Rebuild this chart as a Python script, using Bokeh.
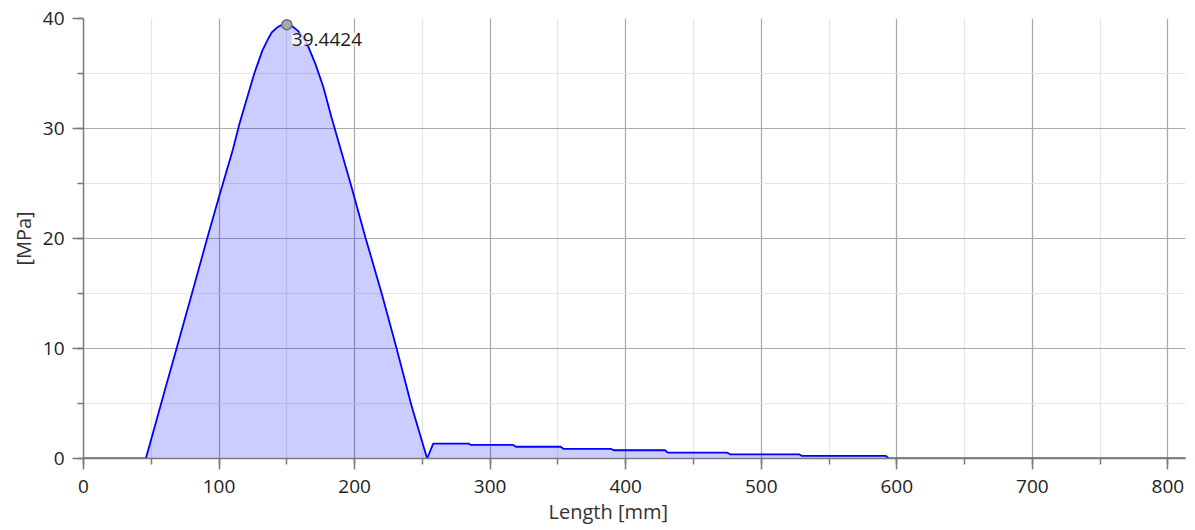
from bokeh.plotting import figure
from bokeh.models import Range1d, SingleIntervalTicker, Label, Title
from bokeh.embed import file_html
from bokeh.resources import INLINE

# ---- data ----
length_mm = [0, 46, 60, 70, 80, 91, 100, 110, 115, 120, 126, 132, 136, 139, 143, 146, 150, 154,
             158, 162, 165, 171, 177, 183, 190, 197, 208, 220, 231, 242, 253.5, 258,
             284, 286, 317, 319, 352, 354, 389, 391, 429, 431, 475, 477, 528, 530,
             592, 594, 816]
stress_mpa = [0, 0, 6.2, 10.6, 15.0, 19.9, 23.8, 28.0, 30.4, 32.5, 35.0, 37.1, 38.1, 38.75, 39.2, 39.4, 39.4424, 39.3,
              38.9, 38.3, 37.7, 35.9, 33.75, 31.0, 28.0, 25.0, 20.1, 15.0, 10.0, 4.8, 0, 1.35,
              1.35, 1.23, 1.23, 1.07, 1.07, 0.88, 0.88, 0.75, 0.75, 0.53, 0.53, 0.38, 0.38, 0.23,
              0.23, 0, 0]
x_label = "Length [mm]"
y_label = "[MPa]"

FONT = "Open Sans"

p = figure(width=1187, height=526, output_backend="svg", toolbar_location=None,
           x_range=Range1d(0, 813), y_range=Range1d(0, 40),
           min_border_left=83, min_border_right=2, min_border_top=18, min_border_bottom=68)
p.outline_line_color = None
p.background_fill_color = "white"

p.varea(x=length_mm, y1=[0] * len(length_mm), y2=stress_mpa,
        fill_color="#0000FF", fill_alpha=0.2)
p.line(length_mm, stress_mpa, line_color="#0000FF", line_width=1.8)

# peak marker
i_max = max(range(len(stress_mpa)), key=lambda i: stress_mpa[i])
px, py = length_mm[i_max], stress_mpa[i_max]
p.scatter([px], [py], size=10, fill_color="#a8a8a8", line_color="#6e6e6e", line_width=1.5)
lab = Label(x=px, y=py, text=f"{py:.4f}", x_offset=5, y_offset=-8,
            text_baseline="top", text_align="left",
            text_font=FONT, text_font_size="19px", text_color="#1a1a1a",
            background_fill_color="white", background_fill_alpha=0.75)
p.add_layout(lab)

# axes
p.xaxis.ticker = SingleIntervalTicker(interval=100, num_minor_ticks=2)
p.yaxis.ticker = SingleIntervalTicker(interval=10, num_minor_ticks=2)
p.yaxis.axis_label = y_label
for ax in (p.xaxis, p.yaxis):
    ax.axis_line_color = "#7a7a7a"
    ax.axis_line_width = 1.5
    ax.major_tick_line_color = "#7a7a7a"
    ax.minor_tick_line_color = "#7a7a7a"
    ax.major_tick_line_width = 1.5
    ax.minor_tick_line_width = 1.5
    ax.major_tick_out = 11
    ax.major_tick_in = 0
    ax.minor_tick_out = 6
    ax.minor_tick_in = 0
    ax.major_label_text_font = FONT
    ax.major_label_text_font_size = "19px"
    ax.major_label_text_color = "#222222"
    ax.axis_label_text_font = FONT
    ax.axis_label_text_font_size = "20px"
    ax.axis_label_text_font_style = "normal"
    ax.axis_label_text_color = "#333333"
p.yaxis.major_label_standoff = 8
p.xaxis.major_label_standoff = 10
p.yaxis.axis_label_standoff = 3

# x-axis title, placed like the reference (slightly left of the frame centre)
xt = Title(text=x_label, align="left", offset=465, standoff=1,
           text_font=FONT, text_font_size="20px", text_font_style="normal",
           text_color="#333333")
p.add_layout(xt, "below")

# grids
p.xgrid.ticker = p.xaxis.ticker
p.ygrid.ticker = p.yaxis.ticker
for g in (p.xgrid, p.ygrid):
    g.grid_line_color = "#a9a9a9"
    g.grid_line_width = 1.2
    g.minor_grid_line_color = "#e6e6e6"
    g.minor_grid_line_width = 1.2

open("out.html", "w").write(file_html(p, INLINE))
